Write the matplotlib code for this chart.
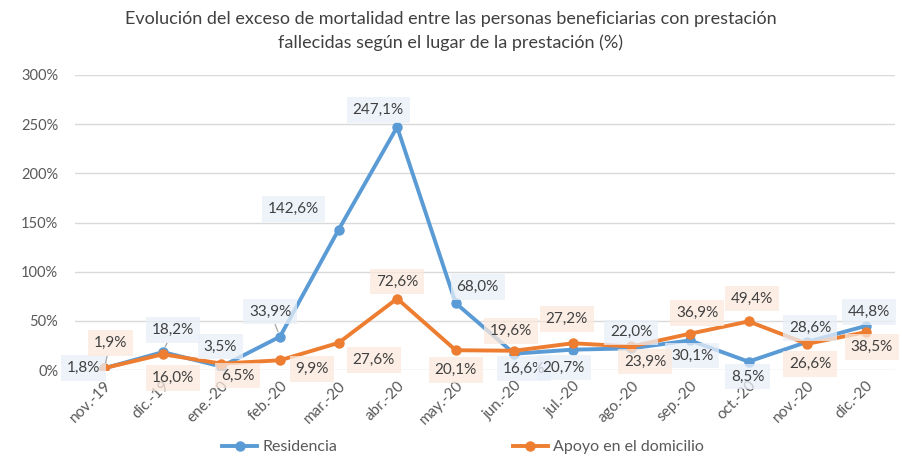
import matplotlib
matplotlib.use("Agg")
import matplotlib.pyplot as plt
from matplotlib.ticker import FuncFormatter
from matplotlib.lines import Line2D

categories = ["nov.-19", "dic.-19", "ene.-20", "feb.-20", "mar.-20", "abr.-20", "may.-20",
              "jun.-20", "jul.-20", "ago.-20", "sep.-20", "oct.-20", "nov.-20", "dic.-20"]
residencia = [1.8, 18.2, 3.5, 33.9, 142.6, 247.1, 68.0, 16.6, 20.7, 22.0, 30.1, 8.5, 28.6, 44.8]
apoyo = [1.9, 16.0, 6.5, 9.9, 27.6, 72.6, 20.1, 19.6, 27.2, 23.9, 36.9, 49.4, 26.6, 38.5]
y_ticks = [0, 50, 100, 150, 200, 250, 300]

# label offsets in pixels (dx, dy) relative to the point
res_off = [(-21, 0), (10, 22), (-1, 20), (-10, 25), (-45, 21), (-19, 17), (22, 16),
           (10, -15), (-9, -18), (0, 16), (2, -15), (-1, -15), (3, 14), (3, 14)]
apo_off = [(6, 25), (10, -24), (16, -12), (32, -9), (35, -17), (0, 17), (0, -20),
           (-3, 20), (-6, 24), (14, -15), (7, 21), (3, 23), (3, -20), (6, -15)]
res_leader = [False, True, False, True] + [False] * 10
apo_leader = [True] + [False] * 13

blue = "#5B9BD5"
orange = "#ED7D31"
txt = "#404040"

plt.rcParams['font.family'] = ['Lato', 'DejaVu Sans']

fig = plt.figure(figsize=(9.02, 4.57), dpi=100)
ax = fig.add_axes([75/902, 1 - 370/457, 820/902, 295/457])
x = list(range(len(categories)))

ax.plot(x, residencia, color=blue, lw=2.8, marker="o", ms=6.5, zorder=3, label="Residencia")
ax.plot(x, apoyo, color=orange, lw=2.8, marker="o", ms=6.5, zorder=3, label="Apoyo en el domicilio")

ax.set_xlim(-0.5, len(categories) - 0.5)
ax.set_ylim(0, 300)
ax.set_yticks(y_ticks)
ax.yaxis.set_major_formatter(FuncFormatter(lambda v, p: f"{int(v)}%"))
ax.grid(axis="y", color="#D9D9D9", lw=1)
ax.set_axisbelow(True)
for s in ax.spines.values():
    s.set_visible(False)
ax.tick_params(axis="both", length=0, colors="#595959", labelsize=10.5)
ax.tick_params(axis="y", pad=12)
ax.set_xticks(x)
ax.set_xticklabels(categories, rotation=45, ha="right", rotation_mode="anchor")
ax.tick_params(axis="x", pad=6, labelsize=11)

def fmt(v):
    return f"{v:.1f}%".replace(".", ",")

for vals, offs, leads, fc in [(residencia, res_off, res_leader, "#E9F0F9"),
                              (apoyo, apo_off, apo_leader, "#FBE9DD")]:
    for xi, v, (dx, dy), lead in zip(x, vals, offs, leads):
        ap = dict(arrowstyle="-", color="#A6A6A6", lw=0.9, shrinkA=0, shrinkB=4) if lead else None
        ax.annotate(fmt(v), (xi, v), xytext=(dx * 0.72, dy * 0.72), textcoords="offset points",
                    ha="center", va="center", fontsize=11, color=txt, zorder=4,
                    arrowprops=ap,
                    bbox=dict(boxstyle="square,pad=0.38", fc=fc, ec="none", alpha=0.75))

fig.suptitle("Evolución del exceso de mortalidad entre las personas beneficiarias con prestación\n"
             "fallecidas según el lugar de la prestación (%)",
             y=0.975, fontsize=13, color=txt, linespacing=1.5)

handles = [Line2D([], [], color=blue, lw=2.8, marker="o", ms=6.5),
           Line2D([], [], color=orange, lw=2.8, marker="o", ms=6.5)]
fig.legend(handles, ["Residencia", "Apoyo en el domicilio"], loc="center",
           bbox_to_anchor=(0.513, 1 - 447/457), ncol=2, frameon=False, fontsize=11.5,
           labelcolor="#595959", columnspacing=11, handlelength=2.2, handletextpad=0.3)

fig.savefig("out.png", dpi=100, facecolor="white")
